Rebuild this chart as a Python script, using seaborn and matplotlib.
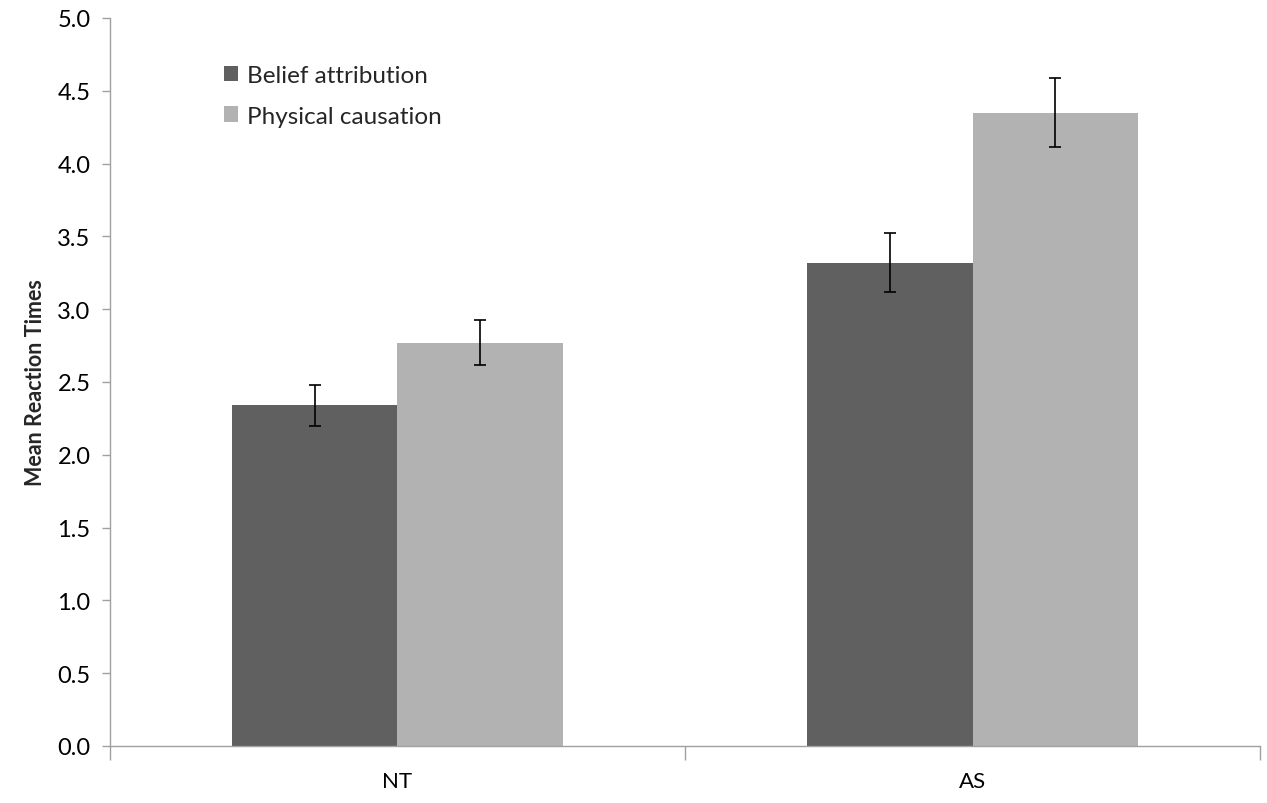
import numpy as np
import pandas as pd
import matplotlib
matplotlib.use("Agg")
import matplotlib.pyplot as plt
import seaborn as sns

# Data
groups = ["NT", "AS"]
conditions = ["Belief attribution", "Physical causation"]
belief_means = [2.34, 3.32]
physical_means = [2.77, 4.35]
belief_err = [0.14, 0.20]
physical_err = [0.155, 0.235]

df = pd.DataFrame({
    "Group": groups * 2,
    "Condition": [conditions[0]] * 2 + [conditions[1]] * 2,
    "RT": belief_means + physical_means,
    "Err": belief_err + physical_err,
})

sns.set_theme(style="white")
plt.rcParams["font.family"] = ["Lato", "DejaVu Sans"]

fig = plt.figure(figsize=(12.67, 8.04), dpi=100)
ax = fig.add_axes([0.0868, 0.0709, 0.9077, 0.9055])

palette = {conditions[0]: "#606060", conditions[1]: "#b2b2b2"}
sns.barplot(data=df, x="Group", y="RT", hue="Condition", order=groups,
            hue_order=conditions, palette=palette, width=0.574,
            errorbar=None, saturation=1, linewidth=0, ax=ax)

# error bars at bar centres
bars = [p for p in ax.patches if p.get_height() > 0]
for bar in bars:
    cx = bar.get_x() + bar.get_width() / 2
    h = bar.get_height()
    row = df.loc[np.isclose(df["RT"], h)].iloc[0]
    ax.errorbar(cx, h, yerr=row["Err"], fmt="none", ecolor="black",
                elinewidth=1.2, capsize=4, capthick=1.2)

ax.set_ylim(0, 5)
ax.set_xlim(-0.5, 1.5)
ax.set_yticks(np.arange(0, 5.01, 0.5))
ax.set_yticklabels([f"{v:.1f}" for v in np.arange(0, 5.01, 0.5)])
ax.set_xticks([-0.5, 0.5, 1.5], minor=True)
ax.tick_params(axis="x", which="major", length=0, pad=18, labelsize=16)
ax.tick_params(axis="x", which="minor", length=10, width=1, color="#a0a0a0",
               direction="out", bottom=True)
ax.tick_params(axis="y", length=6, width=1, color="#a0a0a0", direction="out",
               left=True, labelsize=17, pad=8)
for lab in ax.get_xticklabels() + ax.get_yticklabels():
    lab.set_color("black")

ax.set_xlabel("")
ax.set_ylabel("Mean Reaction Times", fontsize=15.5, fontweight="bold", labelpad=8)

sns.despine(ax=ax)
for s in ["left", "bottom"]:
    ax.spines[s].set_color("#a0a0a0")
    ax.spines[s].set_linewidth(1)

leg = ax.legend(loc="upper left", bbox_to_anchor=(0.08, 0.965), frameon=False,
                fontsize=17.5, handlelength=0.6, handleheight=0.6,
                handletextpad=0.35, labelspacing=0.8, title=None)

fig.savefig("out.png", dpi=100)
